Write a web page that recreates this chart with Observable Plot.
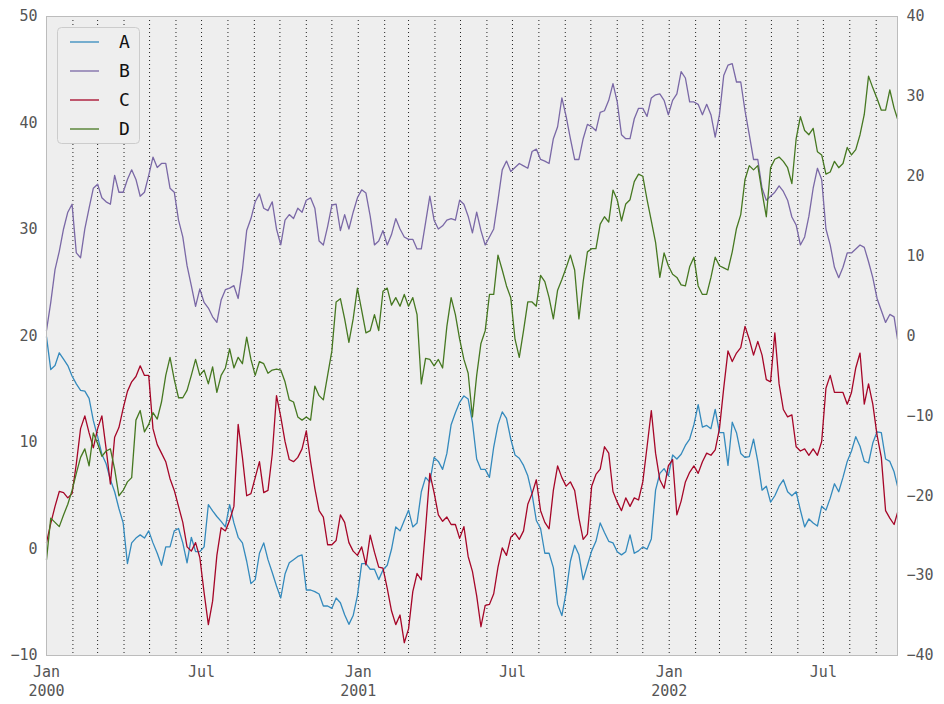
<!DOCTYPE html>
<html>
<head>
<meta charset="utf-8">
<script src="https://cdn.jsdelivr.net/npm/d3@7"></script>
<script src="https://cdn.jsdelivr.net/npm/@observablehq/plot@0.6"></script>
<style>
  html, body { margin: 0; padding: 0; background: #fff; }
  #chart { position: relative; width: 944px; height: 704px; }
</style>
</head>
<body>
<div id="chart"></div>
<script>
// ---- data ----
// "main" values: days 0,10,...,990 and day 999 after 2000-01-01
// "mid" values: days 5,15,...,995
const seriesNames = ["A", "B", "C", "D"];
const seriesColors = ["#348ABD", "#7A68A6", "#A60628", "#467821"];
const rightAxisSeries = ["A", "B"]; // plotted against the right-hand axis

const mainA = [
  -0.1, -3.7, -2.9, -5.0, -6.8, -7.8, -12.6, -16.0, -19.5, -23.4,
  -25.9, -24.9, -24.4, -27.2, -26.4, -24.4, -25.9, -25.2, -27.0, -21.1,
  -22.6, -23.9, -23.4, -25.9, -31.0, -27.2, -28.0, -31.3, -29.8, -28.0,
  -27.4, -31.8, -32.3, -33.8, -32.8, -34.9, -35.0, -28.5, -29.2, -30.5,
  -28.7, -23.9, -23.1, -23.9, -19.5, -18.3, -15.7, -14.7, -9.6, -7.5,
  -10.8, -16.7, -17.7, -11.1, -10.3, -14.9, -16.2, -19.8, -24.1, -27.2,
  -33.6, -32.1, -26.2, -30.5, -26.9, -23.4, -25.7, -27.0, -27.0, -27.2,
  -26.4, -25.4, -17.2, -17.5, -15.4, -13.7, -11.1, -11.4, -11.6, -12.1,
  -16.2, -12.1, -15.2, -12.9, -19.3, -20.8, -18.8, -19.5, -19.5, -23.9,
  -23.4, -21.3, -20.3, -19.5, -15.7, -12.6, -15.7, -13.4, -12.1, -15.7,
  -18.8
];
const midA = [
  -4.2, -2.1, -3.7, -6.0, -6.9, -10.6, -14.8, -18.0, -21.6, -28.5,
  -25.3, -25.3, -25.9, -28.7, -26.4, -24.1, -28.4, -27.0, -26.4, -21.9,
  -23.2, -21.1, -25.2, -28.2, -30.5, -25.9, -29.6, -32.8, -28.4, -27.6,
  -31.8, -32.0, -33.8, -34.1, -33.4, -36.1, -32.5, -28.5, -29.2, -29.3,
  -26.7, -24.4, -21.8, -23.4, -17.7, -15.2, -16.7, -11.1, -8.3, -7.9,
  -15.4, -16.7, -13.9, -9.5, -12.9, -15.3, -17.5, -23.1, -27.2, -29.0,
  -35.0, -28.2, -27.4, -28.7, -25.7, -24.6, -25.9, -27.4, -24.9, -26.9,
  -26.7, -19.3, -16.6, -14.9, -14.8, -12.9, -8.6, -11.2, -9.2, -12.1,
  -10.8, -14.7, -15.1, -15.7, -18.8, -20.0, -18.0, -20.0, -21.8, -22.9,
  -23.8, -21.8, -18.5, -17.7, -14.4, -13.8, -15.9, -12.0, -15.4, -17.0
];
const mainB = [
  0.7, 8.3, 13.4, 16.5, 9.8, 16.0, 19.0, 16.8, 20.1, 18.0,
  20.8, 17.5, 20.1, 21.1, 21.6, 18.0, 12.4, 6.3, 5.9, 3.5,
  1.7, 5.8, 6.3, 8.3, 14.7, 17.8, 15.7, 13.4, 14.5, 14.7,
  15.5, 17.3, 11.9, 13.7, 16.5, 15.2, 15.5, 18.3, 15.0, 11.9,
  11.4, 14.7, 12.4, 12.1, 10.9, 17.5, 13.4, 14.5, 14.5, 16.5,
  12.9, 13.2, 12.4, 17.0, 21.9, 21.1, 21.3, 23.1, 22.1, 21.6,
  26.2, 27.5, 22.1, 24.7, 26.2, 28.0, 29.5, 29.3, 24.7, 27.2,
  28.5, 29.8, 30.3, 27.7, 30.3, 32.3, 29.3, 27.7, 27.7, 27.7,
  33.9, 31.8, 28.2, 22.1, 18.5, 17.5, 18.8, 17.0, 13.9, 12.4,
  18.5, 19.6, 11.4, 7.3, 10.4, 10.9, 11.1, 7.3, 3.2, 2.7,
  -0.4
];
const midB = [
  4.2, 10.6, 15.5, 10.4, 13.4, 18.5, 17.3, 16.5, 18.0, 19.6,
  19.6, 18.0, 22.4, 21.6, 18.5, 14.5, 8.8, 3.7, 4.2, 2.4,
  4.5, 6.0, 4.7, 13.2, 16.8, 16.0, 16.8, 11.4, 15.2, 16.0,
  17.0, 16.0, 11.4, 16.4, 13.2, 13.4, 17.3, 17.9, 11.4, 13.2,
  12.7, 13.4, 12.1, 10.9, 14.2, 14.5, 13.8, 14.7, 17.0, 15.0,
  15.5, 11.4, 13.4, 20.8, 20.6, 21.6, 21.0, 23.4, 21.9, 24.7,
  29.8, 24.7, 22.1, 26.5, 25.7, 28.2, 31.6, 25.2, 24.7, 28.5,
  27.5, 30.2, 29.5, 29.5, 33.1, 29.3, 29.0, 29.0, 24.9, 32.6,
  34.1, 31.8, 25.2, 22.1, 17.0, 18.0, 18.1, 14.9, 11.4, 15.0,
  21.0, 13.4, 8.6, 8.6, 10.4, 11.4, 9.3, 4.7, 1.7, 2.4
];
const mainC = [
  0.6, 4.0, 5.3, 5.2, 11.3, 10.9, 11.3, 9.4, 10.5, 13.2,
  15.7, 17.2, 16.3, 9.8, 8.2, 5.5, 2.5, -0.2, -0.8, -7.1,
  -0.6, 1.7, 4.0, 8.6, 5.2, 8.2, 5.5, 14.4, 10.1, 8.2,
  9.4, 8.2, 3.6, 0.4, 0.8, 2.5, -0.2, 0.2, 1.3, -1.7,
  -3.7, -7.1, -8.8, -4.0, -2.9, 7.1, 3.2, 3.0, 2.3, 2.1,
  -2.1, -7.3, -5.2, -1.7, -0.6, 1.5, 1.7, 5.2, 3.6, 1.9,
  7.8, 5.9, 5.5, 0.9, 5.9, 7.5, 9.0, 4.4, 4.8, 4.8,
  6.3, 13.0, 6.5, 7.8, 3.2, 6.3, 7.8, 8.2, 8.8, 11.3,
  18.6, 18.4, 20.9, 18.2, 18.2, 15.7, 15.5, 12.4, 9.6, 9.4,
  9.4, 10.1, 16.3, 14.7, 13.6, 17.0, 13.6, 13.6, 8.6, 2.9,
  3.4
];
const midC = [
  2.4, 5.4, 4.8, 8.0, 12.5, 9.5, 12.5, 6.1, 11.4, 14.8,
  16.2, 16.3, 11.3, 9.0, 6.6, 4.0, 0.2, 0.6, -4.1, -4.9,
  2.0, 2.7, 11.7, 5.0, 6.7, 5.3, 8.9, 12.4, 8.4, 8.6,
  11.1, 5.7, 3.0, 0.4, 3.2, 0.6, -0.6, -1.5, -0.3, -1.8,
  -5.8, -6.2, -7.5, -2.3, 1.9, 5.3, 2.6, 2.3, 1.0, -0.7,
  -4.4, -5.3, -4.2, 0.1, 1.1, 0.9, 4.2, 6.5, 2.5, 5.5,
  6.7, 6.3, 2.9, 1.4, 7.0, 9.6, 5.4, 3.6, 4.0, 4.6,
  9.6, 9.0, 5.7, 8.4, 4.5, 7.2, 7.1, 9.0, 9.3, 15.1,
  17.6, 18.9, 19.7, 19.5, 15.9, 20.3, 13.1, 12.6, 9.2, 8.8,
  8.8, 15.1, 14.7, 14.7, 14.7, 18.4, 15.5, 10.7, 3.6, 2.3
];
const mainD = [
  -1.0, 2.5, 3.2, 5.5, 8.6, 7.8, 9.9, 9.2, 7.5, 5.5,
  6.7, 13.0, 11.7, 12.2, 16.3, 15.9, 14.2, 16.3, 16.3, 15.5,
  14.7, 17.0, 17.0, 17.4, 17.8, 17.6, 16.5, 16.9, 15.7, 13.8,
  12.1, 12.1, 14.4, 16.3, 23.2, 21.6, 21.6, 22.4, 20.5, 20.5,
  24.5, 23.6, 23.9, 23.6, 15.5, 17.8, 17.8, 20.9, 22.0, 17.8,
  12.4, 19.3, 23.9, 27.6, 24.7, 19.7, 20.5, 23.2, 25.7, 23.6,
  24.3, 26.4, 26.2, 25.1, 28.2, 30.5, 30.7, 32.8, 32.4, 34.5,
  35.0, 30.8, 25.5, 26.6, 25.5, 24.7, 27.4, 23.9, 25.5, 26.6,
  26.2, 30.1, 34.7, 35.6, 33.5, 35.8, 36.8, 35.8, 38.5, 39.3,
  39.5, 37.0, 35.4, 35.8, 37.7, 37.5, 40.8, 43.3, 41.2, 43.1,
  40.4
];
const midD = [
  2.9, 2.1, 4.2, 7.1, 9.4, 10.9, 8.7, 9.4, 5.0, 6.3,
  12.1, 11.0, 12.8, 13.8, 18.0, 14.2, 14.9, 17.8, 16.8, 17.1,
  16.3, 18.8, 18.0, 19.9, 16.3, 17.4, 16.8, 16.8, 14.0, 12.4,
  12.4, 15.3, 14.0, 18.6, 23.5, 19.4, 24.5, 20.3, 22.0, 24.2,
  22.9, 22.8, 22.8, 22.0, 17.9, 17.2, 17.0, 23.6, 19.7, 16.5,
  16.3, 20.5, 23.9, 26.2, 23.6, 18.0, 23.2, 22.8, 25.1, 21.6,
  25.3, 27.6, 21.6, 27.9, 28.2, 31.2, 33.7, 30.8, 32.8, 35.2,
  32.8, 28.8, 27.8, 25.8, 24.8, 26.5, 24.7, 23.9, 27.4, 26.4,
  27.9, 31.4, 36.0, 36.0, 31.2, 36.6, 36.4, 34.3, 40.6, 38.9,
  37.3, 35.2, 36.4, 36.2, 37.0, 38.9, 44.4, 42.3, 41.2, 41.4
];

const leftTicks = [-10, 0, 10, 20, 30, 40, 50];
const rightTicks = [-40, -30, -20, -10, 0, 10, 20, 30, 40];
const xTickDates = ["2000-01-01", "2000-07-01", "2001-01-01", "2001-07-01", "2002-01-01", "2002-07-01"];
const xTickLabels = ["Jan\n2000", "Jul", "Jan\n2001", "Jul", "Jan\n2002", "Jul"];

// ---- build ----
const start = new Date(Date.UTC(2000, 0, 1));
const end = d3.utcDay.offset(start, 999);

const leftDomain = [-10, 50], rightDomain = [-40, 40];
const toLeft = d3.scaleLinear().domain(rightDomain).range(leftDomain);

const mains = {A: mainA, B: mainB, C: mainC, D: mainD};
const mids = {A: midA, B: midB, C: midC, D: midD};

function seriesRows(name) {
  const onRight = rightAxisSeries.includes(name);
  const conv = v => onRight ? toLeft(v) : v;
  const m = mains[name], h = mids[name], out = [];
  for (let i = 0; i < h.length; i++) {
    out.push({date: d3.utcDay.offset(start, 10 * i), value: conv(m[i])});
    out.push({date: d3.utcDay.offset(start, 10 * i + 5), value: conv(h[i])});
  }
  out.push({date: end, value: conv(m[m.length - 1])});
  return out;
}

const monthLines = d3.utcMonth.range(d3.utcMonth.offset(start, 1), end);
const tickDates = xTickDates.map(s => new Date(s + "T00:00:00Z"));
const fmt = d3.format("d");

const chart = Plot.plot({
  width: 944,
  height: 704,
  marginLeft: 46,
  marginRight: 47,
  marginTop: 16,
  marginBottom: 49,
  style: {fontFamily: "'DejaVu Sans Mono', monospace", fontSize: "15px", color: "#555", background: "#fff"},
  x: {type: "utc", domain: [start, end]},
  y: {domain: leftDomain},
  marks: [
    Plot.frame({fill: "#eeeeee", stroke: "none"}),
    Plot.ruleX(monthLines, {stroke: "#222", strokeWidth: 1, strokeDasharray: "1,3"}),
    ...seriesNames.map((name, k) =>
      Plot.lineY(seriesRows(name), {x: "date", y: "value", stroke: seriesColors[k], strokeWidth: 1.3})
    ),
    Plot.axisX(tickDates, {
      tickSize: 0, tickPadding: 8, label: null, lineHeight: 1.25,
      tickFormat: d => xTickLabels[tickDates.findIndex(t => +t === +d)]
    }),
    Plot.axisY(leftTicks, {anchor: "left", tickSize: 0, tickPadding: 9, label: null, tickFormat: fmt}),
    Plot.axisY(rightTicks.map(r => toLeft(r)), {
      anchor: "right", tickSize: 0, tickPadding: 9, label: null,
      tickFormat: v => fmt(Math.round(toLeft.invert(v)))
    }),
    Plot.frame({stroke: "#bcbcbc", strokeWidth: 1})
  ]
});

document.getElementById("chart").appendChild(chart);

// ---- legend (upper left, inside the axes) ----
const svg = d3.select(chart);
const lg = svg.append("g").attr("transform", "translate(57.5,27.5)");
lg.append("rect").attr("width", 82).attr("height", 116).attr("rx", 4)
  .attr("fill", "#eeeeee").attr("stroke", "#cccccc").attr("stroke-width", 1);
seriesNames.forEach((name, k) => {
  const yy = 14.5 + k * 29;
  lg.append("line").attr("x1", 12.5).attr("x2", 41.5).attr("y1", yy).attr("y2", yy)
    .attr("stroke", seriesColors[k]).attr("stroke-width", 1.3);
  lg.append("text").attr("x", 67).attr("y", yy).attr("dy", "0.36em")
    .attr("text-anchor", "middle").attr("font-weight", "normal")
    .attr("font-family", "'DejaVu Sans Mono', monospace").attr("font-size", 18)
    .attr("fill", "#111").text(name);
});
</script>
</body>
</html>
